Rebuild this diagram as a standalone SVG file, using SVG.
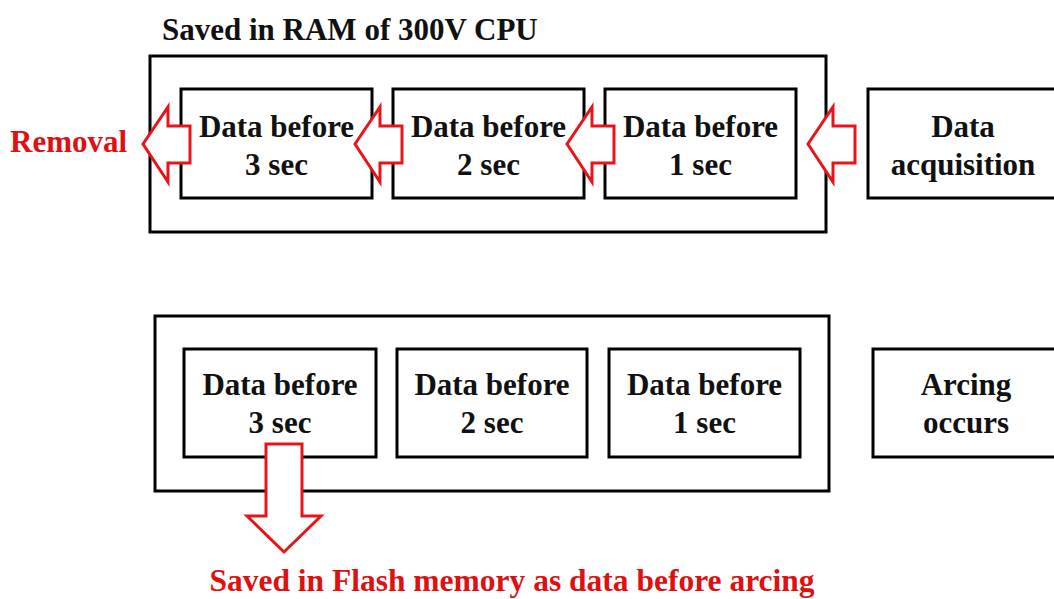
<svg xmlns="http://www.w3.org/2000/svg" width="1054" height="599" viewBox="0 0 1054 599">
<style>
.box{fill:none;stroke:#000;stroke-width:3}
.node{fill:#fff;stroke:#000;stroke-width:3}
.t{font-family:"Liberation Serif","Times New Roman",serif;font-weight:bold;font-size:31px;fill:#111;text-anchor:middle}
.r{font-family:"Liberation Serif","Times New Roman",serif;font-weight:bold;font-size:31px;fill:#e01010}
.arr{fill:#fff;stroke:#e8141a;stroke-width:3;stroke-linejoin:miter}
</style>
<defs>
<polygon id="la" points="0,0 25,-37 25,-18 47,-18 47,19 25,19 25,38"/>
</defs>
<text x="162" y="40" class="t" style="text-anchor:start">Saved in RAM of 300V CPU</text>
<g id="ram"><rect class="box" x="150" y="56" width="676" height="176"/></g>
<g id="top1"><rect class="node" x="181" y="89" width="191" height="109"/><text class="t" x="276.5" y="137">Data before</text><text class="t" x="276.5" y="175">3 sec</text></g>
<g id="top2"><rect class="node" x="393" y="89" width="191" height="109"/><text class="t" x="488.5" y="137">Data before</text><text class="t" x="488.5" y="175">2 sec</text></g>
<g id="top3"><rect class="node" x="605" y="89" width="191" height="109"/><text class="t" x="700.5" y="137">Data before</text><text class="t" x="700.5" y="175">1 sec</text></g>
<g id="acq"><rect class="node" x="868" y="89" width="200" height="109"/><text class="t" x="963" y="137">Data</text><text class="t" x="963" y="175">acquisition</text></g>
<text id="removal" class="r" x="10" y="152">Removal</text>
<g id="bottom"><rect class="box" x="155" y="316" width="674" height="175"/></g>
<g id="bot1"><rect class="node" x="184" y="349" width="192" height="108"/><text class="t" x="280" y="395">Data before</text><text class="t" x="280" y="433">3 sec</text></g>
<g id="bot2"><rect class="node" x="397" y="349" width="190" height="108"/><text class="t" x="492" y="395">Data before</text><text class="t" x="492" y="433">2 sec</text></g>
<g id="bot3"><rect class="node" x="609" y="349" width="191" height="108"/><text class="t" x="704.5" y="395">Data before</text><text class="t" x="704.5" y="433">1 sec</text></g>
<g id="arc"><rect class="node" x="873" y="349" width="200" height="108"/><text class="t" x="966" y="395">Arcing</text><text class="t" x="966" y="433">occurs</text></g>
<g id="connectors">
<use href="#la" class="arr" x="143" y="144"/>
<use href="#la" class="arr" x="355" y="144"/>
<use href="#la" class="arr" x="567" y="144"/>
<use href="#la" class="arr" x="808" y="144"/>
<polygon class="arr" points="266,444 302,444 302,516 321,516 284,552 247,516 266,516"/>
</g>
<text id="flash" class="r" x="512" y="591" style="text-anchor:middle;font-size:31.5px">Saved in Flash memory as data before arcing</text>
</svg>
